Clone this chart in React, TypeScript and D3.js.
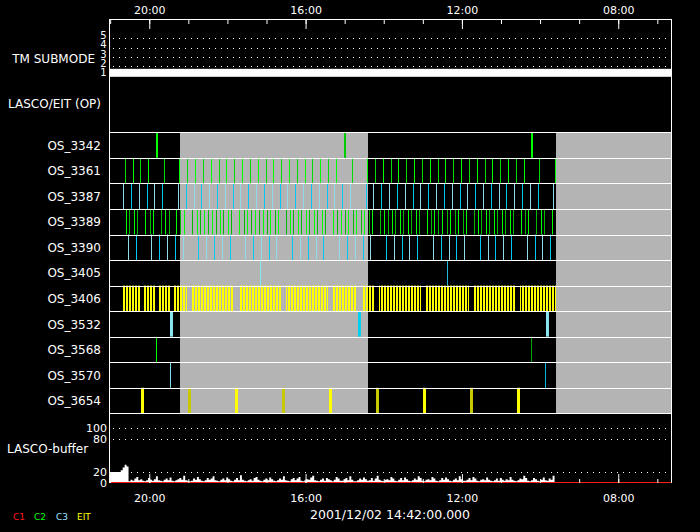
import React, { useEffect, useRef } from "react";
import * as d3 from "d3";

// time axis in decimal hours (runs backwards, left to right)
const tStart = 21.03;
const tEnd = 6.65;
const hourTicks = [21, 20, 19, 18, 17, 16, 15, 14, 13, 12, 11, 10, 9, 8, 7];
const labelTicks = [20, 16, 12, 8];
const dateLabel = "2001/12/02 14:42:00.000";

// telemetry submode
const submodeLevels = [1, 2, 3, 4, 5];
const submodeFrom = [21.03];
const submodeTo = [6.65];
const submodeValue = [1];

// grey (no data) periods
const gapFrom = [19.22, 9.6];
const gapTo = [14.4, 6.65];

const rowNames = [
  "OS_3342", "OS_3361", "OS_3387", "OS_3389", "OS_3390", "OS_3405",
  "OS_3406", "OS_3532", "OS_3568", "OS_3570", "OS_3654",
];

const os3342 = [19.8, 14.99, 10.21];
const os3361 = [
  20.61, 20.41, 20.23, 20.03, 19.62, 19.23, 19.03, 18.82, 18.62, 18.41, 18.21, 18.03,
  17.82, 17.62, 17.41, 17.21, 17.01, 16.83, 16.62, 16.42, 16.21, 16.01, 15.83, 15.62,
  15.42, 15.21, 14.8, 14.42, 14.22, 14.01, 13.81, 13.63, 13.42, 13.22, 13.01, 12.81,
  12.6, 12.43, 12.22, 12.02, 11.81, 11.61, 11.4, 11.22, 11.02, 10.81, 10.61, 10.4,
  10.02, 9.61,
];
const os3387 = [
  20.66, 20.46, 20.26, 20.05, 19.87, 19.67, 19.26, 19.05, 18.85, 18.67, 18.46, 18.26,
  18.05, 17.85, 17.67, 17.47, 17.26, 17.06, 16.85, 16.65, 16.47, 16.26, 16.06, 15.85,
  15.65, 15.44, 15.27, 15.06, 14.86, 14.45, 14.27, 14.06, 13.86, 13.65, 13.45, 13.24,
  13.06, 12.86, 12.66, 12.45, 12.25, 12.04, 11.86, 11.66, 11.45, 11.25, 11.04, 10.86,
  10.66, 10.45, 10.25, 10.05, 9.66,
];
const os3389 = [
  20.59, 20.51, 20.38, 20.31, 20.1, 19.97, 19.9, 19.69, 19.59, 19.49, 19.31, 19.21,
  19.1, 18.9, 18.77, 18.69, 18.59, 18.49, 18.39, 18.28, 18.18, 18.11, 17.98, 17.9,
  17.7, 17.57, 17.49, 17.39, 17.29, 17.18, 17.08, 16.98, 16.9, 16.78, 16.7, 16.49,
  16.39, 16.31, 16.19, 16.11, 15.98, 15.91, 15.78, 15.7, 15.57, 15.5, 15.29, 15.19,
  15.09, 14.98, 14.91, 14.78, 14.7, 14.57, 14.5, 14.37, 14.29, 14.09, 13.99, 13.88,
  13.78, 13.7, 13.58, 13.5, 13.37, 13.3, 13.17, 13.09, 12.89, 12.78, 12.71, 12.6,
  12.5, 12.37, 12.3, 12.17, 12.09, 11.96, 11.89, 11.68, 11.58, 11.5, 11.38, 11.3,
  11.17, 11.09, 10.97, 10.89, 10.76, 10.69, 10.48, 10.38, 10.3, 10.1, 9.97, 9.89, 9.69,
];
const os3390 = [
  20.54, 20.33, 19.95, 19.74, 19.54, 19.33, 19.13, 18.75, 18.54, 18.34, 18.13, 17.93,
  17.54, 17.34, 17.13, 16.93, 16.75, 16.34, 16.14, 15.93, 15.73, 15.55, 15.14, 14.93,
  14.73, 14.52, 14.34, 13.93, 13.73, 13.53, 13.35, 13.14, 12.73, 12.53, 12.32, 12.14,
  11.94, 11.53, 11.32, 11.15, 10.94, 10.74, 10.33, 10.12, 9.94, 9.74,
];
const os3405 = [17.16, 12.37];
const os3406From = [20.7, 20.13, 19.77, 19.37, 18.9, 17.71, 16.51, 15.32, 14.55, 14.12, 12.93, 11.72, 10.51];
const os3406To = [20.22, 19.84, 19.48, 19.03, 17.84, 16.63, 15.43, 14.68, 14.23, 13.04, 11.83, 10.62, 9.59];
const os3532 = [19.44, 14.62, 9.82];
const os3568 = [19.82, 10.22];
const os3570 = [19.46, 9.87];
const os3654 = [20.18, 18.97, 17.77, 16.57, 15.36, 14.16, 12.96, 11.75, 10.55];

// LASCO buffer fill (%), one value per 3 minutes from the left edge
const bufferValues = [
  20, 20, 20, 20, 20, 20, 23, 28, 33, 30,
  3, 6, 4, 8, 11, 5, 7, 4, 3, 5, 9, 6,
  4, 7, 12, 5, 4, 3, 6, 8, 5, 10, 4, 3,
  5, 7, 9, 6, 13, 5, 4, 3, 4, 8, 6, 11,
  7, 4, 3, 5, 9, 6, 8, 12, 5, 4, 3, 6,
  8, 5, 10, 7, 4, 3, 6, 9, 5, 14, 6, 4,
  3, 5, 7, 4, 9, 11, 6, 4, 3, 6, 8, 5,
  10, 7, 4, 3, 5, 8, 6, 12, 5, 4, 3, 7,
  9, 5, 8, 11, 4, 3, 5, 7, 6, 10, 13, 5,
  4, 3, 6, 8, 4, 9, 7, 5, 3, 6, 11, 8,
  4, 4, 7, 9, 5, 12, 6, 3, 3, 5, 8, 6,
  10, 7, 4, 5, 9, 4, 8, 13, 6, 4, 3, 6,
  7, 5, 11, 8, 4, 3, 6, 9, 5, 10, 7, 4,
  3, 5, 8, 6, 12, 9, 4, 3, 6, 7, 5, 11,
  8, 4, 3, 5, 9, 6, 10, 7, 4, 3, 6, 8,
  5, 12, 7, 4, 4, 6, 9, 5, 11, 8, 4, 3,
  6, 7, 5, 10, 6, 4, 3, 5, 8, 4, 9, 6,
  4, 7, 5, 11, 6, 4, 3, 5, 8, 7, 13, 9,
  4, 3, 5, 9, 7, 4, 3, 6, 10, 5, 4, 8, 6, 13,
];
const bufferStep = 0.05;
const bufferGrid = [20, 80, 100];
const bufferTicks = [0, 20, 80, 100];

const legendLabels = ["C1", "C2", "C3", "EIT"];
const legendColors = ["#ff1a1a", "#00ff00", "#9ce4ff", "#ffff00"];

interface EventRow {
  name: string;
  times: number[];
  colors: string[];
  width: number;
}

const eventRows: EventRow[] = [
  { name: "OS_3342", times: os3342, colors: ["#00ff00", "#00cc00"], width: 2 },
  { name: "OS_3361", times: os3361, colors: ["#00dd00", "#00ff00"], width: 1 },
  { name: "OS_3387", times: os3387, colors: ["#90dcec", "#00c8f4"], width: 1 },
  { name: "OS_3389", times: os3389, colors: ["#00ff00", "#00bb00"], width: 1 },
  { name: "OS_3390", times: os3390, colors: ["#90dcec", "#00c8f4"], width: 1 },
  { name: "OS_3405", times: os3405, colors: ["#80e8f0", "#20b8d8"], width: 1 },
  { name: "OS_3532", times: os3532, colors: ["#88e4ec", "#00d0f0"], width: 3 },
  { name: "OS_3568", times: os3568, colors: ["#00ff00", "#00a800"], width: 1 },
  { name: "OS_3570", times: os3570, colors: ["#80e0f0", "#00b8e0"], width: 1 },
  { name: "OS_3654", times: os3654, colors: ["#ffff00", "#c8c800"], width: 3 },
];

const W = 700;
const H = 532;
const left = 109;
const right = 671;
const frameTop = 19;
const rowsTop = 132.3;
const rowH = 25.55;
const bufBottom = 483;
const FONT = "'DejaVu Sans', sans-serif";

const App: React.FC = () => {
  const svgRef = useRef<SVGSVGElement | null>(null);

  useEffect(() => {
    document.body.style.margin = "0";
    document.body.style.background = "#000";

    const svg = d3.select(svgRef.current);
    svg.selectAll("*").remove();
    svg
      .attr("width", W)
      .attr("height", H)
      .style("display", "block")
      .style("background", "#000")
      .attr("font-family", FONT);

    const x = d3.scaleLinear().domain([tStart, tEnd]).range([left, right]);
    const ySub = d3.scaleLinear().domain([1, 5]).range([75.8, 38.3]);
    const yBuf = d3.scaleLinear().domain([0, 100]).range([bufBottom, 427.7]);
    const rowY = d3
      .scaleBand<string>()
      .domain(rowNames)
      .range([rowsTop, rowsTop + rowH * rowNames.length]);
    const rowsBottom = rowsTop + rowH * rowNames.length;
    const snap = (v: number) => Math.round(v) + 0.5;

    // pattern for the dense OS_3406 sequence
    const defs = svg.append("defs");
    const pat = defs
      .append("pattern")
      .attr("id", "p3406")
      .attr("patternUnits", "userSpaceOnUse")
      .attr("width", 3)
      .attr("height", 40);
    pat.append("rect").attr("width", 2).attr("height", 40).attr("fill", "#ffff00");

    // grey gaps
    svg
      .append("g")
      .selectAll("rect")
      .data(gapFrom)
      .join("rect")
      .attr("x", (d) => Math.round(x(d)))
      .attr("width", (d, i) => Math.round(x(gapTo[i])) - Math.round(x(d)))
      .attr("y", rowsTop)
      .attr("height", rowsBottom - rowsTop)
      .attr("fill", "#b4b4b4");

    // submode band
    svg
      .append("g")
      .selectAll("rect")
      .data(submodeValue)
      .join("rect")
      .attr("x", (d, i) => x(submodeFrom[i]))
      .attr("width", (d, i) => x(submodeTo[i]) - x(submodeFrom[i]))
      .attr("y", (d) => ySub(d) - 7)
      .attr("height", 8)
      .attr("fill", "#fff");

    // dotted grid lines
    const dotted = svg.append("g").attr("stroke", "#fff").attr("stroke-dasharray", "1 5");
    submodeLevels.slice(1).forEach((v) => {
      dotted
        .append("line")
        .attr("x1", left + 4)
        .attr("x2", right)
        .attr("y1", snap(ySub(v)))
        .attr("y2", snap(ySub(v)));
    });
    bufferGrid.forEach((v) => {
      dotted
        .append("line")
        .attr("x1", left + 4)
        .attr("x2", right)
        .attr("y1", snap(yBuf(v)))
        .attr("y2", snap(yBuf(v)));
    });

    // event lines
    eventRows.forEach((r) => {
      svg
        .append("g")
        .selectAll("rect")
        .data(r.times)
        .join("rect")
        .attr("x", (d) => Math.round(x(d) - r.width / 2))
        .attr("width", r.width)
        .attr("y", rowY(r.name)!)
        .attr("height", rowY.bandwidth())
        .attr("fill", (d, i) => r.colors[i % r.colors.length]);
    });

    // OS_3406 dense blocks
    svg
      .append("g")
      .selectAll("rect")
      .data(os3406From)
      .join("rect")
      .attr("x", (d) => Math.round(x(d)))
      .attr("width", (d, i) => Math.round(x(os3406To[i])) - Math.round(x(d)))
      .attr("y", rowY("OS_3406")!)
      .attr("height", rowY.bandwidth())
      .attr("fill", "url(#p3406)");

    // row separators
    const sep = svg.append("g").attr("stroke", "#fff");
    [...rowNames.map((n) => rowY(n)!), rowsBottom].forEach((y) => {
      sep
        .append("line")
        .attr("x1", left)
        .attr("x2", right)
        .attr("y1", snap(y))
        .attr("y2", snap(y));
    });

    // LASCO buffer
    const bufData = [...bufferValues, bufferValues[bufferValues.length - 1]];
    const area = d3
      .area<number>()
      .x((d, i) => x(tStart - i * bufferStep))
      .y0(yBuf(0))
      .y1((d) => yBuf(d))
      .curve(d3.curveStepAfter);
    svg.append("path").datum(bufData).attr("d", area).attr("fill", "#fff");

    svg
      .append("rect")
      .attr("x", left)
      .attr("width", right - left + 1)
      .attr("y", Math.round(yBuf(0)) - 1)
      .attr("height", 1)
      .attr("fill", legendColors[0]);

    // frame
    const frame = svg.append("g").attr("stroke", "#fff").attr("fill", "none");
    frame.append("line").attr("x1", left).attr("x2", right + 1).attr("y1", frameTop + 0.5).attr("y2", frameTop + 0.5);
    frame.append("line").attr("x1", left + 0.5).attr("x2", left + 0.5).attr("y1", frameTop).attr("y2", bufBottom);
    frame.append("line").attr("x1", right + 0.5).attr("x2", right + 0.5).attr("y1", frameTop).attr("y2", bufBottom);

    // axes
    const styleAxis = (g: d3.Selection<SVGGElement, unknown, null, undefined>, size: number) => {
      g.select(".domain").remove();
      g.attr("font-family", FONT).attr("font-size", size).style("color", "#fff");
    };
    const fmt = (h: d3.NumberValue) => `${String(h).padStart(2, "0")}:00`;

    const topMinor = svg.append("g").attr("transform", `translate(0,${frameTop})`);
    topMinor.call(d3.axisTop(x).tickValues(hourTicks).tickSizeInner(-5).tickSizeOuter(0).tickFormat(() => ""));
    styleAxis(topMinor, 11);
    const topMajor = svg.append("g").attr("transform", `translate(0,${frameTop})`);
    topMajor.call(d3.axisTop(x).tickValues(labelTicks).tickSizeInner(-10).tickSizeOuter(0).tickPadding(5).tickFormat(fmt));
    styleAxis(topMajor, 11);

    const botMinor = svg.append("g").attr("transform", `translate(0,${bufBottom})`);
    botMinor.call(d3.axisBottom(x).tickValues(hourTicks).tickSizeInner(-4).tickSizeOuter(0).tickFormat(() => ""));
    styleAxis(botMinor, 11);
    const botMajor = svg.append("g").attr("transform", `translate(0,${bufBottom})`);
    botMajor.call(d3.axisBottom(x).tickValues(labelTicks).tickSizeInner(-9).tickSizeOuter(0).tickPadding(11).tickFormat(fmt));
    styleAxis(botMajor, 11);

    // left labels
    const txt = svg.append("g").attr("fill", "#fff").attr("font-size", 12);
    txt.append("text").attr("x", 95).attr("y", 62.7).attr("text-anchor", "end").text("TM SUBMODE");
    txt.append("text").attr("x", 101).attr("y", 108).attr("text-anchor", "end").text("LASCO/EIT (OP)");
    txt.append("text").attr("x", 7).attr("y", 453).text("LASCO-buffer");
    rowNames.forEach((n) => {
      txt
        .append("text")
        .attr("x", 101)
        .attr("y", rowY(n)! + rowY.bandwidth() / 2 + 4.6)
        .attr("text-anchor", "end")
        .text(n);
    });

    const subLab = svg.append("g").attr("fill", "#fff").attr("font-size", 10).attr("text-anchor", "end");
    submodeLevels.forEach((v) => {
      subLab.append("text").attr("x", 106.5).attr("y", ySub(v) + 0.5).text(v);
    });
    const bufLab = svg.append("g").attr("fill", "#fff").attr("font-size", 11).attr("text-anchor", "end");
    bufferTicks.forEach((v) => {
      bufLab.append("text").attr("x", 107).attr("y", yBuf(v) + 4).text(v);
    });

    svg
      .append("text")
      .attr("x", (left + right) / 2)
      .attr("y", 519)
      .attr("text-anchor", "middle")
      .attr("fill", "#fff")
      .attr("font-size", 12.5)
      .text(dateLabel);

    // legend
    const legX = [13, 34, 56, 77];
    svg
      .append("g")
      .attr("font-size", 9)
      .selectAll("text")
      .data(legendLabels)
      .join("text")
      .attr("x", (d, i) => legX[i])
      .attr("y", 520)
      .attr("fill", (d, i) => legendColors[i])
      .text((d) => d);
  }, []);

  return <svg ref={svgRef} />;
};

export default App;
